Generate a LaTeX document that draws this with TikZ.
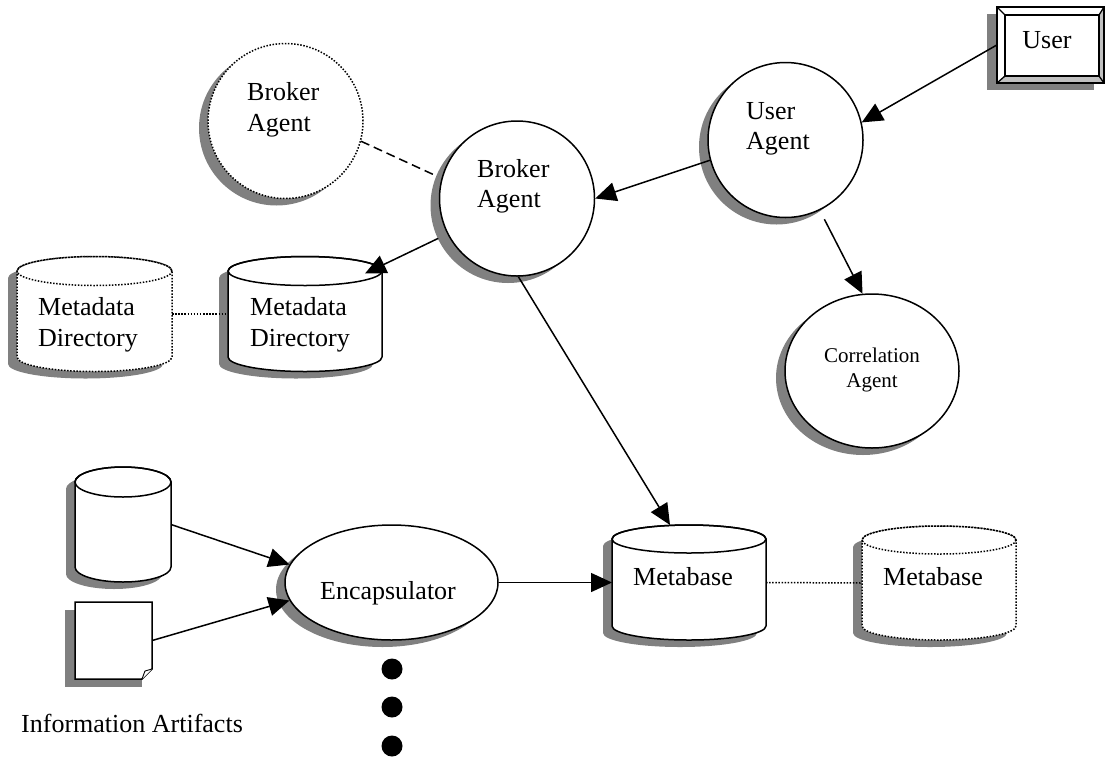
\documentclass[tikz,border=0pt]{standalone}
\usepackage{fontspec}
\setmainfont{Liberation Serif}
\usetikzlibrary{shapes.geometric,shadows,arrows.meta,calc}
\definecolor{shadowgray}{RGB}{128,128,128}
\definecolor{bevelgray}{RGB}{192,192,192}

\newcommand\dbshape[7]{%
  \node[inner sep=0pt, outer sep=0pt, minimum width={2*#5}, minimum height={#4-#3+2*#6}] (#1) at (#2,{(#3+#4)/2}) {};
  \begin{scope}[shift={(-9,7)}]
    \fill[shadowgray] ({#2-#5},#3) -- ({#2-#5},#4) arc[start angle=180,end angle=0,x radius=#5,y radius=#6] -- ({#2+#5},#3) arc[start angle=0,end angle=-180,x radius=#5,y radius=#6] -- cycle;
  \end{scope}
  \filldraw[fill=white, lw, #7] ({#2-#5},#3) -- ({#2-#5},#4) arc[start angle=180,end angle=0,x radius=#5,y radius=#6] -- ({#2+#5},#3) arc[start angle=0,end angle=-180,x radius=#5,y radius=#6] -- cycle;
  \draw[lw, #7] (#2,#3) ellipse [x radius=#5, y radius=#6];
}

\begin{document}
\begin{tikzpicture}[x=1pt,y=-1pt,
  lw/.style={line width=1.5pt},
  dotline/.style={dash pattern=on 1.5pt off 1.6pt},
  solidline/.style={},
  agent/.style={ellipse, draw, line width=1.5pt, fill=white, inner sep=0pt,
    drop shadow={shadow xshift=-9pt, shadow yshift=-7pt, fill=shadowgray, opacity=1}},
  arr/.style={lw, -{Triangle[length=21pt, width=19pt]}},
  txt/.style={inner sep=0pt, font=\fontsize{26}{31}\selectfont},
  smalltxt/.style={inner sep=0pt, font=\fontsize{21}{25}\selectfont},
  dot/.style={circle, fill=black, inner sep=0pt, minimum size=21pt}
]
\path[use as bounding box] (0,0) rectangle (1105,761);

% User box
\node[inner sep=0pt, minimum width=107pt, minimum height=76pt] (user) at (1050.5,45) {};
\fill[shadowgray] (987,14) rectangle (1094,90);
\fill[white] (997,7) rectangle (1104,83);
\fill[bevelgray] (997,83) -- (1005,76) -- (1099,76) -- (1104,83) -- cycle;
\fill[bevelgray] (1104,7) -- (1099,15) -- (1099,76) -- (1104,83) -- cycle;
\draw[line width=1.8pt] (997,7) rectangle (1104,83);
\draw[line width=1.3pt] (1005,15) rectangle (1099,76);
\draw[line width=1.3pt] (997,7) -- (1005,15) (997,83) -- (1005,76) (1104,7) -- (1099,15) (1104,83) -- (1099,76);
\node[txt, anchor=base] (usert) at (1047,48) {User};

% Agents
\node[agent, dotline, minimum width=155pt, minimum height=155pt] (brokerb) at (285.5,121) {};
\node[agent, minimum width=155pt, minimum height=155pt] (ua) at (785.5,140) {};
\node[agent, minimum width=155pt, minimum height=155pt] (broker) at (517,198.5) {};
\node[agent, minimum width=174pt, minimum height=154pt] (corr) at (872,371) {};
\node[agent, minimum width=213pt, minimum height=115pt] (enc) at (391.5,582.5) {};

\node[txt, anchor=base west] (bb1) at (247,100) {Broker};
\node[txt, anchor=base west] (bb2) at (247,131) {Agent};
\node[txt, anchor=base west] (b1) at (477,177) {Broker};
\node[txt, anchor=base west] (b2) at (477,207) {Agent};
\node[txt, anchor=base west] (u1) at (746,119) {User};
\node[txt, anchor=base west] (u2) at (746,149) {Agent};
\node[smalltxt, anchor=base] (c1) at (872,362) {Correlation};
\node[smalltxt, anchor=base] (c2) at (872,387) {Agent};
\node[txt, anchor=base] (enct) at (388,599) {Encapsulator};

% Cylinders
\dbshape{mdd}{94.5}{271}{357}{77.5}{14.5}{dotline}
\dbshape{md}{305}{271}{357}{77}{14.5}{solidline}
\dbshape{mb}{689}{539}{626}{77}{14}{solidline}
\dbshape{mbd}{939}{540}{626}{77}{14}{dotline}
\dbshape{db}{123}{482}{567}{48}{15}{solidline}

\node[txt, anchor=base west] (mdd1) at (38,315) {Metadata};
\node[txt, anchor=base west] (mdd2) at (38,346) {Directory};
\node[txt, anchor=base west] (md1) at (250,315) {Metadata};
\node[txt, anchor=base west] (md2) at (250,346) {Directory};
\node[txt, anchor=base] (mbt) at (683,585) {Metabase};
\node[txt, anchor=base] (mbdt) at (933,585) {Metabase};

% Document
\node[inner sep=0pt, minimum width=77pt, minimum height=77pt] (doc) at (113.5,640.5) {};
\fill[shadowgray] (65,610) rectangle (142,687);
\filldraw[fill=white, lw] (75,602) -- (152,602) -- (152,669) -- (142,679) -- (75,679) -- cycle;
\filldraw[fill=white, line width=0.9pt] (152,669) -- (145,671) -- (142,679);

% Dots and label
\node[dot] (d1) at (392,669) {};
\node[dot] (d2) at (392,707) {};
\node[dot] (d3) at (392,746) {};
\node[txt, anchor=base west] (info) at (21,732) {Information Artifacts};

% Connectors
\draw[arr] (user.west) -- (ua.13);
\draw[arr] (ua.195) -- (broker.east);
\draw[arr, shorten <=10pt] (ua.-64) -- (corr.97);
\draw[arr, shorten <=10pt] (broker.207) -- ($(md.north)+(60,17)$);
\draw[lw, dash pattern=on 9pt off 5pt, shorten >=9pt] (brokerb.-15) -- (broker.165);
\draw[arr] (broker.-89) -- ([xshift=-19pt]mb.north);
\draw[lw, dotline] (mdd.east) -- (md.west);
\draw[arr] (db.east) -- (enc.170);
\draw[arr] (doc.east) -- (enc.190);
\draw[arr] (enc.east) -- (mb.west);
\draw[lw, dotline] (mb.east) -- (mbd.west);
\end{tikzpicture}
\end{document}
